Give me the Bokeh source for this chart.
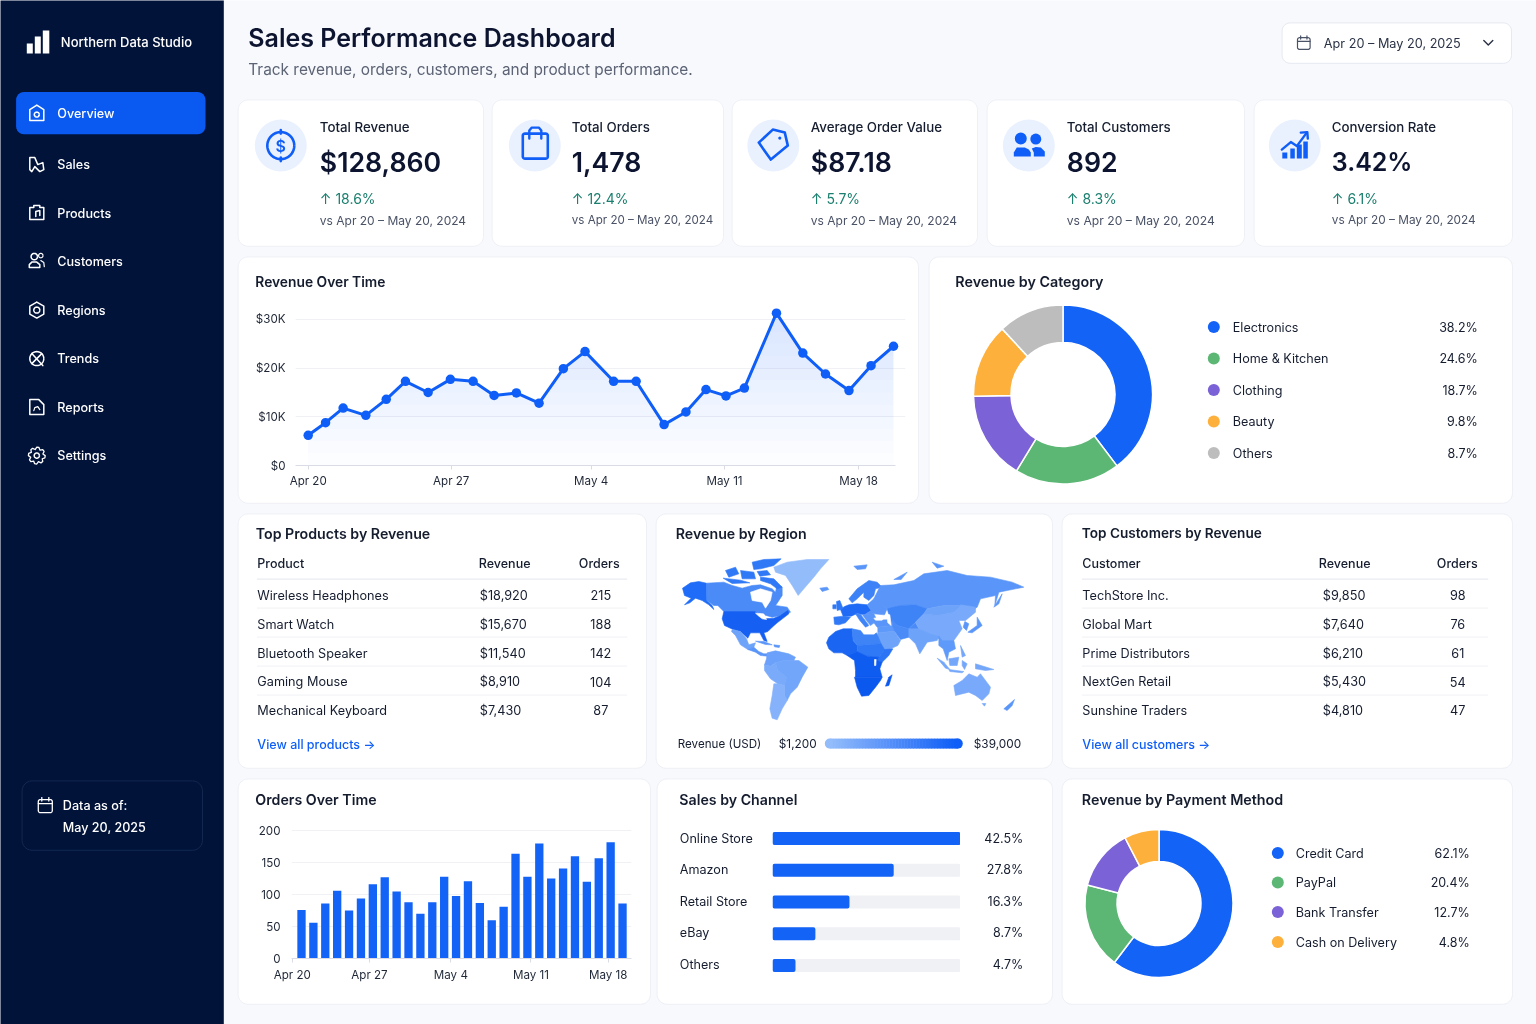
import math
import numpy as np
from bokeh.core.properties import value
from bokeh.embed import file_html
from bokeh.layouts import column
from bokeh.models import FixedTicker, Range1d
from bokeh.plotting import figure
from bokeh.resources import INLINE

# ---------- data ----------
nav_items = ["Overview", "Sales", "Products", "Customers", "Regions", "Trends", "Reports", "Settings"]
kpi_labels = ["Total Revenue", "Total Orders", "Average Order Value", "Total Customers", "Conversion Rate"]
kpi_values = ["$128,860", "1,478", "$87.18", "892", "3.42%"]
kpi_changes = ["18.6%", "12.4%", "5.7%", "8.3%", "6.1%"]

rev_x = [0.0, 0.85, 1.71, 2.82, 3.82, 4.76, 5.87, 6.96, 8.07, 9.1, 10.19, 11.3, 12.49,
         13.55, 14.95, 16.05, 17.42, 18.49, 19.47, 20.45, 21.35, 22.92, 24.21, 25.32, 26.47, 27.55, 28.65]
rev_k = [6.2, 8.8, 11.8, 10.3, 13.6, 17.3, 15.0, 17.7, 17.3, 14.4, 14.9, 12.8, 19.9,
         23.4, 17.3, 17.3, 8.4, 11.0, 15.6, 14.3, 15.9, 31.3, 23.1, 18.8, 15.4, 20.5, 24.5]
rev_ticks = [0.0, 7.0, 13.85, 20.38, 26.94]
date_labels = ["Apr 20", "Apr 27", "May 4", "May 11", "May 18"]
rev_yticks = [0, 10, 20, 30]
rev_ylabels = ["$0", "$10K", "$20K", "$30K"]

cat_names = ["Electronics", "Home & Kitchen", "Clothing", "Beauty", "Others"]
cat_pct_labels = ["38.2%", "24.6%", "18.7%", "9.8%", "8.7%"]
cat_slices = [39.7, 19.0, 16.0, 13.4, 11.9]

products = ["Wireless Headphones", "Smart Watch", "Bluetooth Speaker", "Gaming Mouse", "Mechanical Keyboard"]
product_rev = ["$18,920", "$15,670", "$11,540", "$8,910", "$7,430"]
product_orders = ["215", "188", "142", "104", "87"]
customers = ["TechStore Inc.", "Global Mart", "Prime Distributors", "NextGen Retail", "Sunshine Traders"]
customer_rev = ["$9,850", "$7,640", "$6,210", "$5,430", "$4,810"]
customer_orders = ["98", "76", "61", "54", "47"]

orders = [76, 56, 86, 106, 75, 94, 116, 127, 105, 88, 70, 88, 128, 98, 121, 87, 60, 81,
          164, 128, 180, 125, 141, 160, 120, 157, 182, 86]
order_ticks = [-0.78, 5.72, 12.56, 19.3, 25.8]
order_yticks = [0, 50, 100, 150, 200]

channels = ["Online Store", "Amazon", "Retail Store", "eBay", "Others"]
channel_bars = [42.5, 27.4, 17.4, 9.7, 5.2]
channel_labels = ["42.5%", "27.8%", "16.3%", "8.7%", "4.7%"]

pay_names = ["Credit Card", "PayPal", "Bank Transfer", "Cash on Delivery"]
pay_pct_labels = ["62.1%", "20.4%", "12.7%", "4.8%"]
pay_slices = [60.3, 18.7, 13.4, 7.6]

# map outlines, in map units (1/3 px) with the shade of each region
world = [
 ("#1e6cf7", [(66,128),(90,112),(115,108),(138,113),(139,165),(155,180),(160,192),(145,178),(125,165),(105,158),(88,172),(72,178),(92,158),(72,150)]),
 ("#4a8bf8", [(139,113),(190,110),(215,120),(245,128),(275,120),(300,118),(335,130),(345,140),(350,115),(365,125),(365,150),(352,170),(345,180),(380,185),(390,200),(360,210),(335,215),(300,205),(280,198),(190,198),(172,180),(160,180),(139,165)]),
 ("#2f78f6", [(300,95),(340,100),(365,125),(350,130),(330,115),(300,105)]),
 ("#2f78f6", [(275,50),(310,42),(362,40),(340,60),(300,70),(280,72)]),
 ("#2f78f6", [(195,75),(225,65),(235,85),(205,95)]),
 ("#2f78f6", [(240,75),(280,80),(285,100),(245,100)]),
 ("#2f78f6", [(290,78),(320,75),(330,88),(298,92)]),
 ("#2f78f6", [(188,98),(240,104),(268,112),(215,114)]),
 ("#1560f2", [(190,198),(282,198),(300,208),(310,220),(340,218),(360,210),(382,195),(385,205),(350,232),(335,245),(322,258),(310,262),(320,288),(310,285),(298,262),(270,262),(262,278),(240,258),(218,252),(192,240),(185,220)]),
 ("#6ea3fa", [(215,252),(240,258),(258,280),(265,298),(285,292),(280,305),(262,312),(240,298),(225,270),(213,258)]),
 ("#5a96f9", [(262,312),(280,305),(295,318),(310,325),(330,325),(322,332),(300,330),(285,320)]),
 ("#5a96f9", [(285,287),(310,288),(335,298),(315,297)]),
 ("#5a96f9", [(340,298),(358,300),(356,306),(342,304)]),
 ("#6ba1fa", [(320,322),(345,316),(385,325),(405,335),(400,345),(370,345),(345,352),(330,362),(312,358),(318,340)]),
 ("#7aabfa", [(312,358),(330,362),(345,352),(352,375),(378,395),(372,420),(352,415),(330,400),(312,375)]),
 ("#72a6fa", [(370,345),(400,345),(415,345),(442,365),(425,395),(410,425),(390,445),(380,465),(372,450),(372,420),(378,395),(352,375),(345,352)]),
 ("#85b2fb", [(340,415),(352,415),(372,420),(372,450),(380,465),(365,490),(350,523),(335,518),(328,490),(335,450)]),
 ("#93bcfb", [(340,65),(380,50),(440,42),(505,42),(480,70),(460,95),(430,130),(413,150),(395,120),(375,90),(345,80)]),
 ("#5a96f9", [(478,128),(500,125),(505,132),(485,138)]),
 ("#2f78f6", [(520,215),(548,212),(570,215),(555,232),(535,238),(522,236)]),
 ("#1f6bf5", [(545,205),(540,192),(552,183),(565,178),(590,175),(620,178),(632,195),(612,208),(590,204),(572,212),(548,212)]),
 ("#2f78f6", [(528,168),(538,165),(548,190),(530,195)]),
 ("#2f78f6", [(517,178),(527,178),(527,190),(517,190)]),
 ("#3f84f7", [(585,205),(600,206),(625,240),(615,245),(598,225)]),
 ("#5a96f9", [(606,208),(640,205),(650,225),(630,240),(618,225)]),
 ("#5a96f9", [(632,195),(620,178),(640,160),(680,190),(672,208),(640,205),(612,208)]),
 ("#3d82f7", [(565,160),(590,130),(625,105),(650,110),(665,125),(645,130),(640,150),(625,165),(610,155),(610,140),(590,160),(575,172)]),
 ("#5a96f9", [(635,225),(695,222),(695,240),(650,245)]),
 ("#5e9af9", [(652,245),(695,240),(702,258),(695,258),(652,262)]),
 ("#5a96f9", [(640,160),(660,120),(700,118),(760,105),(790,85),(860,75),(920,90),(990,95),(1055,110),(1090,125),(1040,135),(1015,140),(1003,180),(1005,150),(960,160),(950,185),(935,195),(900,180),(850,180),(800,190),(765,178),(720,180),(690,190),(680,190),(650,170)]),
 ("#5a96f9", [(700,102),(740,80),(722,102)]),
 ("#5a96f9", [(580,62),(620,58),(615,70),(590,72)]),
 ("#5a96f9", [(815,50),(850,62),(830,68)]),
 ("#3f84f7", [(680,190),(720,180),(765,178),(800,190),(790,205),(765,230),(745,250),(710,240),(690,225)]),
 ("#4a8bf8", [(695,222),(710,240),(745,250),(765,232),(775,250),(745,275),(720,282),(702,258),(695,240)]),
 ("#78a9fa", [(765,230),(790,205),(830,210),(880,200),(900,178),(945,185),(945,200),(915,225),(895,225),(905,250),(880,285),(845,285),(815,270),(775,250)]),
 ("#6ea3fa", [(790,205),(800,190),(850,180),(900,180),(880,200),(830,210)]),
 ("#5a96f9", [(913,228),(925,235),(918,255),(908,245)]),
 ("#5a96f9", [(950,215),(965,240),(935,262),(922,260),(950,240)]),
 ("#5a96f9", [(1000,185),(1025,145),(1015,175)]),
 ("#6ea3fa", [(745,250),(775,250),(815,268),(835,272),(830,285),(800,290),(778,325),(765,295),(745,275)]),
 ("#5e9af9", [(835,272),(845,285),(880,285),(885,310),(865,320),(860,345),(848,310),(835,300)]),
 ("#6ea3fa", [(652,262),(695,258),(702,258),(720,285),(712,300),(672,318),(650,280)]),
 ("#74a7fa", [(830,338),(850,350),(868,372),(855,368)]),
 ("#74a7fa", [(865,372),(910,378),(905,382),(868,378)]),
 ("#74a7fa", [(865,340),(895,335),(890,360),(868,360)]),
 ("#74a7fa", [(905,345),(920,355),(912,372),(905,360)]),
 ("#74a7fa", [(945,355),(1000,372),(975,375),(945,370)]),
 ("#74a7fa", [(900,300),(915,330),(905,335)]),
 ("#78a9fa", [(880,420),(905,405),(925,385),(950,395),(960,385),(990,425),(985,445),(965,465),(945,450),(925,440),(885,450)]),
 ("#78a9fa", [(965,474),(976,474),(972,482)]),
 ("#5a96f9", [(1030,490),(1062,462),(1055,480),(1040,495)]),
 ("#1a66f2", [(498,292),(505,275),(525,258),(548,250),(575,250),(578,285),(590,300),(590,318),(560,330),(545,322),(520,322),(505,310)]),
 ("#3f84f7", [(575,250),(600,255),(610,268),(640,268),(648,262),(662,295),(590,300),(578,285)]),
 ("#2f78f6", [(590,300),(662,295),(672,312),(655,335),(620,332),(590,318)]),
 ("#2a74f5", [(672,312),(697,310),(685,330),(665,350),(650,345),(655,335)]),
 ("#0f5cf0", [(560,330),(590,318),(620,332),(655,335),(650,345),(665,350),(658,370),(665,395),(640,395),(585,395),(585,375),(582,345)]),
 ("#0b58ee", [(582,395),(665,395),(660,405),(645,425),(625,450),(603,452),(590,425)]),
 ("#0b58ee", [(685,395),(695,388),(685,420),(675,422)]),
 ("#ffffff", [(270,140),(300,130),(335,140),(330,165),(315,188),(305,170),(275,165)]),
 ("#ffffff", [(285,203),(310,205),(318,222),(305,220),(295,212)]),
 ("#ffffff", [(678,205),(688,208),(692,240),(682,232)]),
 ("#ffffff", [(640,218),(670,215),(665,224),(645,224)]),
 ("#ffffff", [(642,342),(647,342),(646,360),(642,360)]),
]

# ---------- colours ----------
BLUE = "#0f5ef7"
INK = "#141c2e"
DARK = "#0c1430"
GREY = "#4a5266"
GREEN = "#1a7f6e"
slice_colors = ["#1463f7", "#5cb774", "#7b62d6", "#fdb03c", "#bdbdbd"]
pay_colors = ["#1463f7", "#5cb774", "#7b62d6", "#fdb03c"]
F = "Inter"
FM = "Inter Medium, Inter"
FS = "Inter SemiBold, Inter"

# ---------- canvas ----------
bg = figure(width=1536, height=1024, x_range=Range1d(0.7, 1536.7), y_range=Range1d(1024.9, 0.9),
            output_backend="svg", toolbar_location=None, x_axis_location=None, y_axis_location=None,
            min_border=0, outline_line_color=None, background_fill_color="#f8f9fd", frame_align=False,
            border_fill_color="#f8f9fd", styles={"position": "absolute", "left": "0px", "top": "0px"})
bg.grid.visible = False


def rr(x0, y0, x1, y1, r):
    xs, ys = [], []
    for cx, cy, a0 in [(x1 - r, y0 + r, -90), (x1 - r, y1 - r, 0), (x0 + r, y1 - r, 90), (x0 + r, y0 + r, 180)]:
        for k in range(7):
            a = math.radians(a0 + 15 * k)
            xs.append(cx + r * math.cos(a))
            ys.append(cy + r * math.sin(a))
    return xs, ys


def box(x0, y0, x1, y1, r=10, fill="#ffffff", line="#eef0f6", width=1.0):
    xs, ys = rr(x0 + 0.3, y0 + 0.3, x1 + 0.7, y1 + 0.7, r)
    bg.patch(xs, ys, fill_color=fill, line_color=line, line_width=width)


def T(x, y, s, size=12.6, color=INK, font=F, align="left"):
    bg.text([x], [y], text=[s], text_font=value(font), text_font_size=f"{size}px", text_color=color,
            text_align=align, text_baseline="middle")


def S(pts, color="#ffffff", w=1.5, close=False):
    xs = [p[0] for p in pts]
    ys = [p[1] for p in pts]
    if close:
        xs.append(xs[0])
        ys.append(ys[0])
    bg.line(xs, ys, line_color=color, line_width=w, line_join="round", line_cap="round")


def ring(cx, cy, r, color="#ffffff", w=1.5):
    a = np.linspace(0, 2 * math.pi, 41)
    bg.line(list(cx + r * np.cos(a)), list(cy + r * np.sin(a)), line_color=color, line_width=w)


def disc(cx, cy, r, color):
    bg.circle([cx], [cy], radius=r, fill_color=color, line_color=None)


def calendar(cx, cy, color, w=1.3, s=1.0):
    xs, ys = rr(cx - 7 * s, cy - 6 * s, cx + 7 * s, cy + 7 * s, 2)
    bg.patch(xs, ys, fill_color=None, line_color=color, line_width=w)
    S([(cx - 7 * s, cy - 2 * s), (cx + 7 * s, cy - 2 * s)], color, w)
    S([(cx - 3.5 * s, cy - 8 * s), (cx - 3.5 * s, cy - 4.5 * s)], color, w)
    S([(cx + 3.5 * s, cy - 8 * s), (cx + 3.5 * s, cy - 4.5 * s)], color, w)


# sidebar
bg.quad(left=[-5], right=[224], top=[-5], bottom=[1030], fill_color="#02133a", line_color=None)
bg.quad(left=[27, 35, 43], right=[33, 41, 49.5], top=[44, 37, 31], bottom=[54, 54, 54],
        fill_color="#ffffff", line_color=None)
T(61, 42.5, "Northern Data Studio", 13, "#ffffff", FM)
box(16, 92, 205, 134, 8, "#0a5af2", None)
nav_y = [113.5, 164.5, 213.5, 262, 310.5, 359, 407.5, 456]
for name, y in zip(nav_items, nav_y):
    T(57.5, y, name, 12.6, "#ffffff", FM)
S([(30, 110), (37, 105.5), (44, 110), (44, 121), (30, 121)], close=True)
ring(37, 115, 2.5)
S([(30, 158), (35, 158), (38, 165), (43, 163), (44, 170), (40, 172), (35, 167), (32, 172), (30, 170)], close=True)
S([(30, 208), (34, 208), (34, 206), (40, 206), (40, 208), (44, 208), (44, 220), (30, 220)], close=True)
S([(36, 217), (36, 212), (40, 211), (40, 216)])
ring(34.5, 257, 3.2)
ring(41, 256, 2.2, w=1.2)
S([(29.5, 268), (29.5, 265), (32, 262.5), (37, 262.5), (40, 265), (40, 268)], close=True)
S([(41, 261), (44, 263), (44.5, 267)], w=1.2)
S([(37, 302.5), (44, 306.5), (44, 314.5), (37, 318.5), (30, 314.5), (30, 306.5)], close=True)
ring(37, 310.5, 3)
ring(37, 359, 7)
S([(32, 354), (43, 366)])
S([(42, 354), (32, 364)])
S([(30, 400), (39, 400), (44, 405), (44, 415), (30, 415)], close=True)
S([(34, 411), (35, 408), (38, 407), (40, 410)], w=1.2)
gear = [(37 + (8.4 if k % 3 != 2 else 6.3) * math.cos(math.radians(15 * k)),
         456 + (8.4 if k % 3 != 2 else 6.3) * math.sin(math.radians(15 * k))) for k in range(24)]
S(gear, w=1.3, close=True)
ring(37, 456, 2.6)
box(22, 781, 202, 850, 10, None, "#12284f")
calendar(45.5, 806, "#ffffff")
T(63, 805.5, "Data as of:", 12.6, "#ffffff", FM)
T(63, 827.5, "May 20, 2025", 12.6, "#ffffff", FM)

# header
T(248.5, 38, "Sales Performance Dashboard", 25, DARK, FS)
T(248.5, 70, "Track revenue, orders, customers, and product performance.", 15.4, "#5b6375")
box(1282, 23, 1511, 63, 8, "#ffffff", "#e6e9f1")
calendar(1304, 43.5, "#4a5266", 1.2, 0.9)
T(1324, 43.5, "Apr 20 – May 20, 2025", 12.7, "#2a3245")
S([(1484, 41), (1488.5, 45.5), (1493, 41)], "#2a3245", 1.4)

# KPI cards
kpi_cards = [(238, 483), (492, 723), (732, 977), (987, 1244), (1254, 1512)]
kpi_cx = [281, 535, 773.5, 1029, 1295]
kpi_tx = [320, 572, 811, 1067, 1332]
kpi_vs_size = [12, 11.6, 12, 12.15, 11.8]
kpi_val_size = [26.7, 26.7, 26.7, 26.7, 25]
for (x0, x1), cx, tx, lab, val, chg, vs, vz in zip(kpi_cards, kpi_cx, kpi_tx, kpi_labels, kpi_values, kpi_changes,
                                                   kpi_vs_size, kpi_val_size):
    box(x0, 100, x1, 246, 10)
    disc(cx, 146, 26, "#eaf1fe")
    T(tx, 127.5, lab, 13.3, INK, FM)
    T(tx, 162.5, val, vz, DARK, FS)
    T(tx, 198.5, "↑ " + chg, 14, GREEN)
    T(tx, 220.5, "vs Apr 20 – May 20, 2024", vs, GREY)
ring(281, 146, 13.5, BLUE, 2.6)
S([(281, 130.5), (281, 134)], BLUE, 2.6)
S([(281, 158), (281, 161.5)], BLUE, 2.6)
T(281, 146.5, "$", 16, BLUE, FS, "center")
xs, ys = rr(523, 134, 548, 159, 2)
bg.patch(xs, ys, fill_color=None, line_color=BLUE, line_width=2.6)
S([(529.5, 139), (529.5, 131), (532, 128), (539, 128), (541.5, 131), (541.5, 139)], BLUE, 2.4)
S([(759, 143), (773, 130), (785, 133), (788, 146), (771, 160)], BLUE, 2.6, close=True)
disc(780, 138.5, 1.6, BLUE)
disc(1021, 139, 6, BLUE)
disc(1036, 139.5, 5.5, BLUE)
bg.patch([1014, 1014, 1017, 1025, 1029, 1031, 1031], [157, 153, 148, 148, 150, 153, 157], fill_color=BLUE, line_color=None)
bg.patch([1034, 1034, 1032, 1036, 1041, 1045, 1045], [157, 153, 149, 147.5, 148, 152, 157], fill_color=BLUE, line_color=None)
bg.quad(left=[1282.5, 1290.5, 1297, 1303.5], right=[1287.5, 1295, 1302, 1308], top=[153, 149, 145, 142],
        bottom=[159, 159, 159, 159], fill_color=BLUE, line_color=None)
S([(1282, 150), (1291, 142.5), (1297, 146.5), (1307, 133)], BLUE, 2.4)
S([(1301, 133), (1307.5, 132.5), (1308, 139)], BLUE, 2.4)

# large cards
for (x0, y0, x1, y1) in [(238, 257, 918, 503), (929, 257, 1512, 503), (238, 514, 646, 768), (656, 514, 1052, 768),
                         (1062, 514, 1512, 768), (238, 779, 650, 1004), (657, 779, 1052, 1004), (1062, 779, 1512, 1004)]:
    box(x0, y0, x1, y1, 10)
T(255.5, 282, "Revenue Over Time", 13.8, INK, FS)
T(955.5, 282, "Revenue by Category", 14.3, INK, FS)
T(256, 534, "Top Products by Revenue", 14.2, INK, FS)
T(676, 534, "Revenue by Region", 14.2, INK, FS)
T(1082, 533, "Top Customers by Revenue", 13.6, INK, FS)
T(255.5, 799.5, "Orders Over Time", 14.2, INK, FS)
T(679.5, 800, "Sales by Channel", 14.2, INK, FS)
T(1082, 800, "Revenue by Payment Method", 14.3, INK, FS)

# category legend
for name, lab, col, y in zip(cat_names, cat_pct_labels, slice_colors, [327.5, 359, 390.5, 422, 453.5]):
    disc(1214, y, 6, col)
    T(1233, y, name, 12.6, INK)
    T(1478, y, lab, 12.5, INK, F, "right")

# tables
row_y = [595.5, 624.5, 653.5, 682, 710.5]
rule_y = [608.5, 637.5, 666.5, 695.5]


def table(x0, x1, head, rx, oc, hx, names, revs, ords, link):
    T(x0, 563.5, head, 12.5, INK, FM)
    T(hx[0], 563.5, "Revenue", 12.5, INK, FM)
    T(hx[1], 563.5, "Orders", 12.5, INK, FM)
    S([(x0, 579.5), (x1, 579.5)], "#e3e6ed", 1)
    for y in rule_y:
        S([(x0, y), (x1, y)], "#eff1f5", 1)
    for y, n, r, o in zip(row_y, names, revs, ords):
        T(x0, y, n, 12.7, INK)
        T(rx, y, r, 12.7, INK)
        T(oc, y, o, 12.7, INK, F, "center")
    T(x0, 744.5, link, 12.5, BLUE, FM)


table(257.5, 627, "Product", 480, 601, (479, 579), products, product_rev, product_orders, "View all products →")
table(1082.5, 1488, "Customer", 1323, 1458, (1319, 1437), customers, customer_rev, customer_orders, "View all customers →")

# map legend
T(678, 744.5, "Revenue (USD)", 11.6, INK)
T(779, 744.5, "$1,200", 11.8, INK)
T(974, 744.5, "$39,000", 11.8, INK)
c0 = np.array([0x93, 0xbc, 0xfb])
c1 = np.array([0x0f, 0x5e, 0xf7])
edges = np.linspace(830, 958, 44)
disc(830, 744, 5, "#93bcfb")
disc(958, 744, 5, "#0f5ef7")
for i in range(43):
    c = c0 + (c1 - c0) * i / 42
    col = "#%02x%02x%02x" % tuple(int(v) for v in c)
    bg.quad(left=[edges[i]], right=[edges[i + 1] + 0.5], top=[739], bottom=[749], fill_color=col, line_color=None)

# channel labels
chan_y = [838.5, 870, 901.5, 933, 964.5]
for name, lab, y in zip(channels, channel_labels, chan_y):
    T(680, y, name, 12.6, INK)
    T(1023.5, y, lab, 12.5, INK, F, "right")

# payment legend
for name, lab, col, y in zip(pay_names, pay_pct_labels, pay_colors, [853.5, 883, 912.5, 942.5]):
    disc(1278, y, 6, col)
    T(1296, y, name, 12.6, INK)
    T(1470, y, lab, 12.5, INK, F, "right")


# ---------- chart figures, placed by the pixel position of their plot frame ----------
def chart(l, t, r, b, xr, yr, pad=(60, 20, 20, 40)):
    pl, pt, pr, pb = pad
    p = figure(width=r - l + pl + pr, height=b - t + pt + pb, x_range=xr, y_range=yr,
               output_backend="svg", toolbar_location=None, min_border_left=pl, min_border_top=pt,
               min_border_right=pr, min_border_bottom=pb, outline_line_color=None, frame_align=False,
               background_fill_color=None, border_fill_color=None,
               styles={"position": "absolute", "left": f"{l - pl}px", "top": f"{t - pt}px"})
    return p


def style_axes(p):
    p.xaxis.axis_line_color = "#d9dce4"
    p.xaxis.major_tick_line_color = "#d9dce4"
    p.xaxis.major_tick_out = 4
    p.xaxis.major_tick_in = 0
    p.xaxis.minor_tick_line_color = None
    p.yaxis.axis_line_color = None
    p.yaxis.major_tick_line_color = None
    p.yaxis.minor_tick_line_color = None
    for ax in (p.xaxis, p.yaxis):
        ax.major_label_text_font = F
        ax.major_label_text_font_size = "11.6px"
        ax.major_label_text_color = "#1f2737"
    p.xgrid.visible = False
    p.ygrid.grid_line_color = "#f0f1f5"


# revenue line (frame runs past the axis end so the last marker is not cut)
rev_px = 20.43
rev_x0 = (295 - 307.7) / rev_px
rev_x1 = (895 - 307.7) / rev_px
rp = chart(295, 304, 905, 465, Range1d(rev_x0, (905 - 307.7) / rev_px), Range1d(0, 161 / 4.867), pad=(60, 20, 10, 40))
style_axes(rp)
rp.xaxis.bounds = (rev_x0, rev_x1)
rp.ygrid.bounds = (rev_x0, rev_x1)
rp.xaxis.ticker = FixedTicker(ticks=rev_ticks)
rp.xaxis.major_label_overrides = dict(zip(rev_ticks, date_labels))
rp.xaxis.major_label_standoff = 4
rp.yaxis.ticker = FixedTicker(ticks=rev_yticks)
rp.yaxis.major_label_overrides = dict(zip(rev_yticks, rev_ylabels))
rp.yaxis.major_label_standoff = 4


def clipped_band(xs, ys, level):
    """Outline of the part of the area under the series that lies above a level."""
    ox, oy = [], []
    for i in range(len(xs)):
        ox.append(xs[i])
        oy.append(max(ys[i], level))
        if i + 1 < len(xs) and (ys[i] - level) * (ys[i + 1] - level) < 0:
            ox.append(xs[i] + (level - ys[i]) / (ys[i + 1] - ys[i]) * (xs[i + 1] - xs[i]))
            oy.append(level)
    return ox, oy


for lev in np.arange(0, 32, 2.5):
    ox, oy = clipped_band(rev_x, rev_k, lev)
    rp.varea(ox, [lev] * len(ox), oy, fill_color="#1a6cff", fill_alpha=0.012)
rp.line(rev_x, rev_k, line_color=BLUE, line_width=3, line_join="round")
rp.scatter(rev_x, rev_k, size=9.5, marker="circle", fill_color=BLUE, line_color=None)


# donuts
def donut(cx, cy, R, r, slices, cols):
    s = R + 4
    p = chart(int(cx - s), int(cy - s), int(cx - s) + int(2 * s), int(cy - s) + int(2 * s),
              Range1d(int(cx - s), int(cx - s) + int(2 * s)), Range1d(int(cy - s) + int(2 * s), int(cy - s)),
              pad=(0, 0, 0, 0))
    p.xaxis.visible = False
    p.yaxis.visible = False
    p.grid.visible = False
    total = sum(slices)
    ends = np.cumsum(slices) / total * 2 * math.pi
    starts = np.concatenate([[0], ends[:-1]])
    p.annular_wedge([cx] * len(slices), [cy] * len(slices), inner_radius=r, outer_radius=R,
                    start_angle=list(math.pi / 2 - starts), end_angle=list(math.pi / 2 - ends),
                    direction="clock", fill_color=cols, line_color="#ffffff", line_width=1.5)
    return p


d1 = donut(1062.5, 394, 89.5, 52, cat_slices, slice_colors)
d2 = donut(1158.5, 903, 74, 42, pay_slices, pay_colors)

# orders bars
op = chart(291, 827, 631, 958, Range1d((291 - 301) / 11.89, (631 - 301) / 11.89), Range1d(0, 205))
style_axes(op)
op.xaxis.ticker = FixedTicker(ticks=order_ticks)
op.xaxis.major_label_overrides = dict(zip(order_ticks, date_labels))
op.xaxis.major_label_standoff = 5
op.yaxis.ticker = FixedTicker(ticks=order_yticks)
op.yaxis.major_label_standoff = 5
op.vbar(x=list(range(len(orders))), top=orders, width=0.7, bottom=0, fill_color="#1463f7", line_color=None)

# channel bars
hp = chart(772, 822, 960, 981, Range1d(0, 42.5), Range1d(4.5, -0.5), pad=(0, 0, 0, 0))
hp.xaxis.visible = False
hp.yaxis.visible = False
hp.grid.visible = False
idx = list(range(len(channels)))
hp.hbar(y=idx, right=[42.5] * len(idx), left=0, height=0.41, fill_color="#f0f1f5", line_color=None, border_radius=2)
hp.hbar(y=idx, right=channel_bars, left=0, height=0.41, fill_color="#1463f7", line_color=None, border_radius=2)

# world map
mp = chart(660, 545, 1040, 760, Range1d(0, 1140), Range1d(645, 0), pad=(0, 0, 0, 0))
mp.xaxis.visible = False
mp.yaxis.visible = False
mp.grid.visible = False
shades = [c for c, _ in world]
mp.patches([[q[0] for q in poly] for _, poly in world], [[q[1] for q in poly] for _, poly in world],
           fill_color=shades, line_color=shades, line_width=0.6)

root = column(bg, rp, d1, d2, op, hp, mp, width=1536, height=1024,
              styles={"position": "fixed", "left": "0px", "top": "0px"})
open("out.html", "w").write(file_html(root, INLINE))
